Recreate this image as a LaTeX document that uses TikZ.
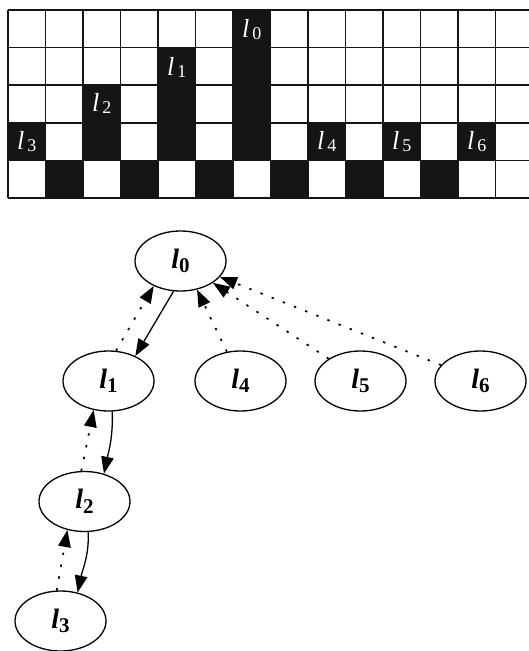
\documentclass[tikz,border=0pt]{standalone}
\usepackage{fontspec}
\setmainfont{Liberation Serif}
\usetikzlibrary{shapes.geometric,arrows.meta}
\newcommand{\glab}[1]{\fontsize{26}{26}\selectfont\textit{l}\hspace{3pt}\raisebox{-2pt}{\fontsize{18}{18}\selectfont #1}}
\newcommand{\tlab}[1]{\fontsize{28}{28}\selectfont\textbf{\textit{l}}\raisebox{-4.5pt}{\fontsize{21}{21}\selectfont\bfseries #1}}
\definecolor{cellblack}{HTML}{151515}
\tikzset{
  blackcell/.style={fill=cellblack},
  gridline/.style={line width=1.6pt, draw=cellblack},
  glabel/.style={anchor=base, text=white, inner sep=0pt},
  tnode/.style={ellipse, draw, line width=1.3pt, minimum width=91pt, minimum height=60pt, inner sep=0pt},
  solidarrow/.style={line width=1.3pt, -{Triangle[length=17pt,width=12.5pt]}},
  dotarrow/.style={line width=1.7pt, dash pattern=on 2.4pt off 9.6pt, -{Triangle[length=17pt,width=12.5pt]}}
}
\begin{document}
\begin{tikzpicture}[x=1pt,y=-1pt]
\useasboundingbox (0,0) rectangle (529,651);
\begin{scope}
\clip (0,0) rectangle (529,651);
% black cells
\foreach \c/\r in {6/0, 4/1,6/1, 2/2,4/2,6/2, 0/3,2/3,4/3,6/3,8/3,10/3,12/3, 1/4,3/4,5/4,7/4,9/4,11/4}
  \fill[blackcell] ({8+\c*37.5},{10+\r*37.6}) rectangle ++(37.5,37.6);
% grid lines
\foreach \i in {0,...,13}
  \draw[gridline] ({8+\i*37.5},10) -- ({8+\i*37.5},198);
\foreach \j in {0,...,5}
  \draw[gridline] (8,{10+\j*37.6}) -- (529,{10+\j*37.6});
\end{scope}
% grid labels
\node[glabel] (g0) at ({8+6.5*37.5},{10+0*37.6+27.5}) {\glab{0}};
\node[glabel] (g1) at ({8+4.5*37.5},{10+1*37.6+27.5}) {\glab{1}};
\node[glabel] (g2) at ({8+2.5*37.5},{10+2*37.6+26.5}) {\glab{2}};
\node[glabel] (g3) at ({8+0.5*37.5},{10+3*37.6+26.5}) {\glab{3}};
\node[glabel] (g4) at ({8+8.5*37.5},{10+3*37.6+26.5}) {\glab{4}};
\node[glabel] (g5) at ({8+10.5*37.5},{10+3*37.6+26.5}) {\glab{5}};
\node[glabel] (g6) at ({8+12.5*37.5},{10+3*37.6+26.5}) {\glab{6}};
% tree
\node[tnode] (l0) at (180.5,261) {\tlab{0}};
\node[tnode] (l1) at (108.5,381) {\tlab{1}};
\node[tnode] (l4) at (240.5,381) {\tlab{4}};
\node[tnode] (l5) at (360.5,381) {\tlab{5}};
\node[tnode] (l6) at (480.5,381) {\tlab{6}};
\node[tnode] (l2) at (84.5,501.5) {\tlab{2}};
\node[tnode] (l3) at (60.5,621) {\tlab{3}};
\draw[solidarrow] (l0.-103) -- (l1.43);
\draw[dotarrow] (l1.76) -- (l0.-137);
\draw[dotarrow] (l4.115) -- (l0.-60);
\draw[dotarrow] (l5.145) -- (l0.-34);
\draw[dotarrow] (l6.158) -- (l0.-22);
\draw[solidarrow] (l1.-83) to[out=-88,in=78] (l2.55);
\draw[dotarrow] (l2.96) -- (l1.-117);
\draw[solidarrow] (l2.-83) to[out=-88,in=78] (l3.59);
\draw[dotarrow] (l3.97) -- (l2.-121);
\end{tikzpicture}
\end{document}
